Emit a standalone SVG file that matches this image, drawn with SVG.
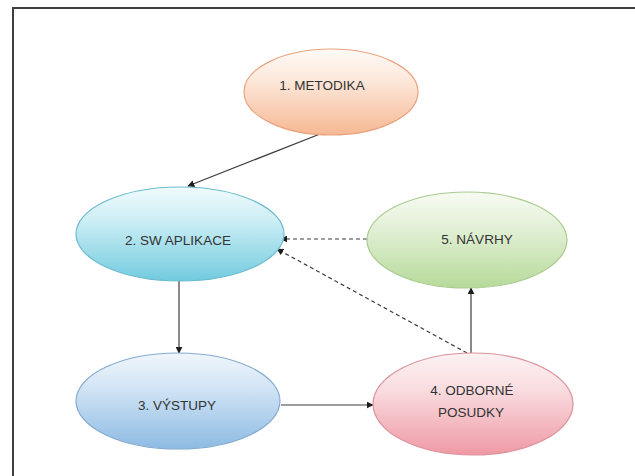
<svg xmlns="http://www.w3.org/2000/svg" width="635" height="476" viewBox="0 0 635 476">
<style>
.lbl{font-family:"Liberation Sans",Arial,sans-serif;font-size:13.5px;fill:#333;text-anchor:middle;dominant-baseline:central}
.con{fill:none;stroke:#3c3c3c;stroke-width:1.2}
.dash{stroke-dasharray:4 3}
</style>
<defs>
<linearGradient id="gO" x1="0" y1="0" x2="0" y2="1"><stop offset="0" stop-color="#fffaf6"/><stop offset="0.35" stop-color="#fde9dc"/><stop offset="1" stop-color="#f6b893"/></linearGradient>
<linearGradient id="gC" x1="0" y1="0" x2="0" y2="1"><stop offset="0" stop-color="#f0fbfd"/><stop offset="0.35" stop-color="#cdeef5"/><stop offset="1" stop-color="#72cbdf"/></linearGradient>
<linearGradient id="gG" x1="0" y1="0" x2="0" y2="1"><stop offset="0" stop-color="#f7fbf3"/><stop offset="0.35" stop-color="#e4f1d8"/><stop offset="1" stop-color="#b6da9a"/></linearGradient>
<linearGradient id="gB" x1="0" y1="0" x2="0" y2="1"><stop offset="0" stop-color="#f0f6fc"/><stop offset="0.35" stop-color="#d3e5f5"/><stop offset="1" stop-color="#8dbbe3"/></linearGradient>
<linearGradient id="gR" x1="0" y1="0" x2="0" y2="1"><stop offset="0" stop-color="#fdf2f3"/><stop offset="0.35" stop-color="#f9dde0"/><stop offset="1" stop-color="#ef99a5"/></linearGradient>
<marker id="ah" viewBox="0 0 10 10" refX="9" refY="5" markerWidth="7" markerHeight="7" markerUnits="userSpaceOnUse" orient="auto"><path d="M0,0 L10,5 L0,10 z" fill="#1e1e1e"/></marker>
</defs>
<g id="frame"><path d="M13,476 V8 H635" fill="none" stroke="#3f3f3f" stroke-width="2"/></g>
<g id="connectors">
<line class="con" x1="320" y1="134" x2="188" y2="186" marker-end="url(#ah)"/>
<line class="con dash" x1="367" y1="239" x2="281" y2="239" marker-end="url(#ah)"/>
<line class="con dash" x1="467" y1="353" x2="277" y2="249" marker-end="url(#ah)"/>
<line class="con" x1="179" y1="281" x2="179" y2="353" marker-end="url(#ah)"/>
<line class="con" x1="281" y1="405" x2="373" y2="405" marker-end="url(#ah)"/>
<line class="con" x1="471" y1="353" x2="471" y2="288" marker-end="url(#ah)"/>
</g>
<g id="n1"><ellipse cx="331" cy="92" rx="87" ry="43" fill="url(#gO)" stroke="#eaa37f" stroke-width="1.2"/><text class="lbl" x="322" y="85">1. METODIKA</text></g>
<g id="n2"><ellipse cx="180" cy="234" rx="104" ry="47" fill="url(#gC)" stroke="#6bbccd" stroke-width="1.2"/><text class="lbl" x="178" y="240">2. SW APLIKACE</text></g>
<g id="n5"><ellipse cx="467" cy="240" rx="100" ry="48" fill="url(#gG)" stroke="#a9cb8f" stroke-width="1.2"/><text class="lbl" x="477" y="239">5. NÁVRHY</text></g>
<g id="n3"><ellipse cx="178" cy="401" rx="102" ry="48" fill="url(#gB)" stroke="#85abd0" stroke-width="1.2"/><text class="lbl" x="177" y="405">3. VÝSTUPY</text></g>
<g id="n4"><ellipse cx="473" cy="404" rx="100" ry="51" fill="url(#gR)" stroke="#db929c" stroke-width="1.2"/><text class="lbl" x="472" y="390">4. ODBORNÉ</text><text class="lbl" x="471" y="412">POSUDKY</text></g>
</svg>
